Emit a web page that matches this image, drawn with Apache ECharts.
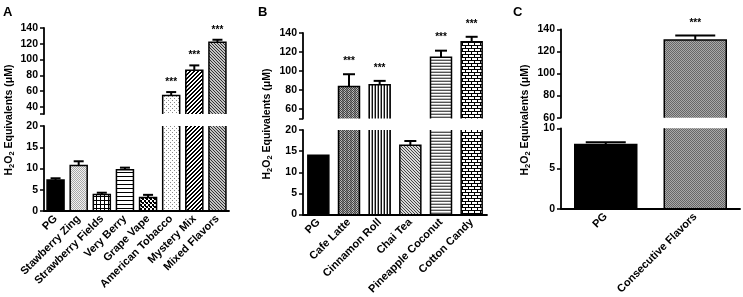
<!DOCTYPE html>
<html>
<head>
<meta charset="utf-8">
<script src="https://cdn.jsdelivr.net/npm/echarts@6/dist/echarts.min.js"></script>
<style>
html,body{margin:0;padding:0;background:#fff;}
#chart{width:743px;height:297px;}
</style>
</head>
<body>
<div id="chart"></div>
<script>
// ---------- DATA ----------
const catsA = ['PG', 'Stawberry Zing', 'Strawberry Fields', 'Very Berry', 'Grape Vape', 'American Tobacco', 'Mystery Mix', 'Mixed Flavors'];
const valsA = [7.3, 10.7, 3.9, 9.7, 3.2, 54.3, 86.3, 121.8];
const errA  = [0.4, 1.0, 0.4, 0.5, 0.6, 4.5, 6.3, 3.3];
const sigA  = ['', '', '', '', '', '***', '***', '***'];

const catsB = ['PG', 'Cafe Latte', 'Cinnamon Roll', 'Chai Tea', 'Pineapple Coconut', 'Cotton Candy'];
const valsB = [14.0, 83.7, 85.4, 16.4, 114.4, 130.7];
const errB  = [0, 12.9, 4.2, 1.0, 7.0, 5.3];
const sigB  = ['', '***', '***', '', '***', '***'];

const catsC = ['PG', 'Consecutive Flavors'];
const valsC = [8.0, 130.3];
const errC  = [0.28, 4.2];
const sigC  = ['', '***'];

const ticksAUp = [40, 60, 80, 100, 120, 140];
const ticksALow = [0, 5, 10, 15, 20];
const ticksBUp = [60, 80, 100, 120, 140];
const ticksBLow = [0, 5, 10, 15, 20];
const ticksCUp = [60, 80, 100, 120, 140];
const ticksCLow = [0, 5, 10];

// H2O2 Equivalents (μM) with subscripts (rich text)
const yTitleRich = '{n|H}{s|2}{n|O}{s|2}{n| Equivalents (μM)}';
const panelLetters = ['A', 'B', 'C'];

// ---------- PATTERNS (style) ----------
function pat(w, h, bg, cells) {
  const c = document.createElement('canvas');
  c.width = w; c.height = h;
  const g = c.getContext('2d');
  g.fillStyle = bg; g.fillRect(0, 0, w, h);
  cells.forEach(([x, y, cw, ch, col]) => { g.fillStyle = col; g.fillRect(x, y, cw, ch); });
  return { image: c, repeat: 'repeat' };
}
function patFn(w, h, fn) {
  const c = document.createElement('canvas');
  c.width = w; c.height = h;
  const g = c.getContext('2d');
  for (let y = 0; y < h; y++) for (let x = 0; x < w; x++) { g.fillStyle = fn(x, y); g.fillRect(x, y, 1, 1); }
  return { image: c, repeat: 'repeat' };
}
const P = {
  black: '#000',
  zing: pat(2, 2, '#f0f0f0', [[0, 0, 1, 1, '#a8a8a8'], [1, 1, 1, 1, '#a8a8a8']]),
  grid: pat(4, 4, '#fff', [[0, 0, 4, 1, '#000'], [0, 0, 1, 4, '#000']]),
  hlines: pat(1, 4, '#fff', [[0, 0, 1, 1, '#000']]),
  checker: pat(4, 4, '#fff', [[0, 0, 2, 2, '#000'], [2, 2, 2, 2, '#000'], [1, 2, 1, 1, '#000']]),
  dots: pat(4, 4, '#fff', [[0, 0, 1, 1, '#888'], [2, 2, 1, 1, '#888']]),
  fwd: patFn(4, 4, (x, y) => ((x + y) % 4 < 2 ? '#000' : '#fff')),
  back: patFn(3, 3, (x, y) => ((x - y + 6) % 3 === 0 ? '#333' : '#c4c4c4')),
  cafe: patFn(4, 4, (x, y) => ((x + y) % 2 === 0 ? '#444' : (x % 4 < 2 ? '#bbb' : '#888'))),
  vlines: patFn(3, 1, (x) => ['#111', '#fff', '#999'][x]),
  chai: patFn(3, 3, (x, y) => ((x - y + 6) % 3 === 0 ? '#444' : '#d8d8d8')),
  hgrey: patFn(1, 3, (x, y) => ['#555', '#fff', '#bbb'][y]),
  brick: pat(6, 6, '#fff', [[0, 0, 6, 1, '#000'], [0, 3, 6, 1, '#000'], [0, 1, 1, 2, '#000'], [3, 4, 1, 2, '#000']]),
  consec: patFn(2, 2, (x, y) => ((x + y) % 2 === 0 ? '#666' : '#a8a8a8'))
};
const patsA = [P.black, P.zing, P.grid, P.hlines, P.checker, P.dots, P.fwd, P.back];
const patsB = [P.black, P.cafe, P.vlines, P.chai, P.hgrey, P.brick];
const patsC = [P.black, P.consec];

// ---------- LAYOUT ----------
const FONT = '"Liberation Sans", Arial, sans-serif';
const panels = [
  { cats: catsA, vals: valsA, errs: errA, sig: sigA, pats: patsA, left: 44, width: 185,
    up: { top: 28, height: 86, min: 31, max: 140, ticks: ticksAUp },
    low: { top: 126, height: 85, min: 0, max: 20, ticks: ticksALow },
    barWidth: 17, cap: 10, gap: 10, titleX: 9, titleY: 120, letterX: 3 },
  { cats: catsB, vals: valsB, errs: errB, sig: sigB, pats: patsB, left: 303, width: 184,
    up: { top: 33, height: 85.5, min: 50, max: 140, ticks: ticksBUp },
    low: { top: 130, height: 86, min: 0, max: 20, ticks: ticksBLow },
    barWidth: 21, cap: 12, gap: 13, titleX: 267, titleY: 124, letterX: 258 },
  { cats: catsC, vals: valsC, errs: errC, sig: sigC, pats: patsC, left: 561, width: 179,
    up: { top: 29.3, height: 88.4, min: 60, max: 140, ticks: ticksCUp },
    low: { top: 128.3, height: 83.4, min: 0, max: 10, ticks: ticksCLow },
    barWidth: 62, cap: 40, gap: 12, titleX: 525, titleY: 120, letterX: 513 }
];

const grid = [], xAxis = [], yAxis = [], series = [], graphic = [];

panels.forEach((p, pi) => {
  [p.up, p.low].forEach((seg, si) => {
    const idx = pi * 2 + si;
    const isLow = si === 1;
    grid.push({ left: p.left, width: p.width, top: seg.top, height: seg.height });
    xAxis.push(isLow ? {
      gridIndex: idx, type: 'category', data: p.cats, z: 6,
      axisLine: { lineStyle: { color: '#000', width: 1.8 } },
      axisTick: { alignWithLabel: true, length: 3, lineStyle: { color: '#000', width: 1.5 } },
      axisLabel: { rotate: 45, interval: 0, color: '#000', fontWeight: 'bold', fontSize: 11, fontFamily: FONT, margin: 6 }
    } : { gridIndex: idx, type: 'category', data: p.cats, show: false });
    const tickVals = isLow ? seg.ticks.slice() : [seg.min].concat(seg.ticks);
    yAxis.push({
      gridIndex: idx, type: 'value', min: seg.min, max: seg.max, z: 6,
      axisLine: { show: true, lineStyle: { color: '#000', width: 1.8 } },
      axisTick: { show: true, length: 4, customValues: tickVals, lineStyle: { color: '#000', width: 1.5 } },
      axisLabel: { customValues: seg.ticks, color: '#000', fontWeight: 'bold', fontSize: 10.5, fontFamily: FONT, margin: 6 },
      splitLine: { show: false }
    });
    // pattern fill of the bars (no border; outline drawn below so the break stays open)
    series.push({
      type: 'bar', xAxisIndex: idx, yAxisIndex: idx, clip: true, barWidth: p.barWidth,
      itemStyle: { borderWidth: 0 },
      data: p.vals.map((v, i) => ({ value: v, itemStyle: { color: p.pats[i] } }))
    });
    // bar outlines: left, top, right edges, clipped to the segment
    series.push({
      type: 'custom', xAxisIndex: idx, yAxisIndex: idx, clip: true, z: 4,
      data: p.vals.map((v, i) => [i, v]),
      renderItem: (params, api) => {
        const i = api.value(0), v = api.value(1);
        const base = api.coord([i, 0]);
        const top = api.coord([i, v]);
        const hw = p.barWidth / 2;
        return { type: 'polyline',
          shape: { points: [[top[0] - hw, base[1]], [top[0] - hw, top[1]], [top[0] + hw, top[1]], [top[0] + hw, base[1]]] },
          style: { stroke: '#000', lineWidth: 1.5, fill: null } };
      }
    });
    const errData = p.vals.map((v, i) => [i, v, p.errs[i]])
      .filter(d => isLow ? d[1] <= seg.max : d[1] >= seg.min);
    series.push({
      type: 'custom', xAxisIndex: idx, yAxisIndex: idx, z: 5,
      data: errData,
      renderItem: (params, api) => {
        const i = api.value(0), v = api.value(1), e = api.value(2);
        const p0 = api.coord([i, v]);
        const p1 = api.coord([i, v + e]);
        const children = [];
        if (e > 0) {
          children.push({ type: 'line', shape: { x1: p0[0], y1: p0[1], x2: p1[0], y2: p1[1] }, style: { stroke: '#000', lineWidth: 2 } });
          children.push({ type: 'line', shape: { x1: p1[0] - p.cap / 2, y1: p1[1], x2: p1[0] + p.cap / 2, y2: p1[1] }, style: { stroke: '#000', lineWidth: 2 } });
        }
        if (p.sig[i]) {
          children.push({ type: 'text', x: p1[0], y: p1[1] - p.gap,
            style: { text: p.sig[i], fill: '#000', font: 'bold 10px ' + FONT, align: 'center', verticalAlign: 'middle' } });
        }
        return { type: 'group', children };
      }
    });
  });
  graphic.push({ type: 'text', x: p.letterX, y: 6,
    style: { text: panelLetters[pi], fill: '#000', font: 'bold 13px ' + FONT } });
  graphic.push({ type: 'text', x: p.titleX, y: p.titleY, rotation: Math.PI / 2,
    style: {
      text: yTitleRich, align: 'center', verticalAlign: 'middle',
      rich: {
        n: { fontSize: 10.5, fontWeight: 'bold', fontFamily: FONT, fill: '#000', lineHeight: 13 },
        s: { fontSize: 7.5, fontWeight: 'bold', fontFamily: FONT, fill: '#000', lineHeight: 6, verticalAlign: 'bottom' }
      }
    } });
});

const chart = echarts.init(document.getElementById('chart'), null, { renderer: 'canvas' });
chart.setOption({ animation: false, backgroundColor: '#fff', grid, xAxis, yAxis, series, graphic });
</script>
</body>
</html>
